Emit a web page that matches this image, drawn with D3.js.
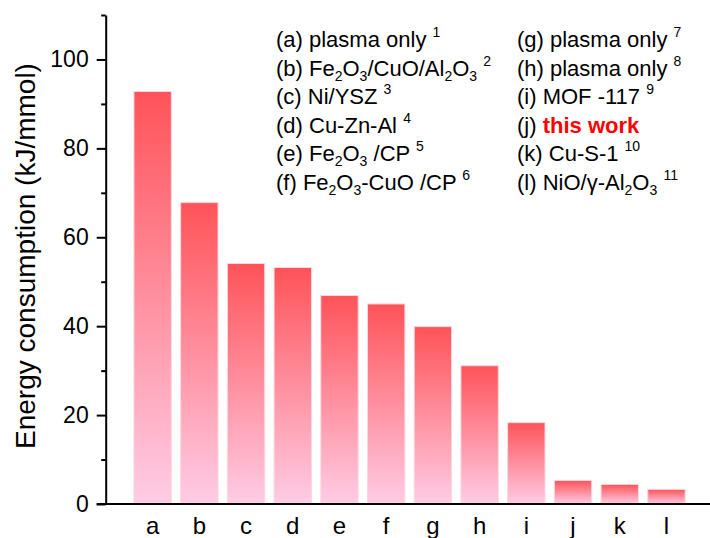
<!DOCTYPE html>
<html><head><meta charset="utf-8">
<script src="https://cdn.jsdelivr.net/npm/d3@7"></script>
<style>
html,body{margin:0;padding:0;background:#fff;}
svg{display:block;font-family:"Liberation Sans",Arial,sans-serif;}
</style></head>
<body>
<svg id="chart" width="710" height="538"></svg>
<script>
const categories = ["a","b","c","d","e","f","g","h","i","j","k","l"];
const values = [92.8, 67.8, 54.1, 53.2, 46.9, 45.0, 39.9, 31.1, 18.3, 5.3, 4.4, 3.3];
const yTicks = [0, 20, 40, 60, 80, 100];
const yMinorTicks = [10, 30, 50, 70, 90, 110];
const legendLabels = [
  "(a) plasma only ^1",
  "(b) Fe_2O_3/CuO/Al_2O_3 ^2",
  "(c) Ni/YSZ ^3",
  "(d) Cu-Zn-Al ^4",
  "(e) Fe_2O_3 /CP ^5",
  "(f) Fe_2O_3-CuO /CP ^6",
  "(g) plasma only ^7",
  "(h) plasma only ^8",
  "(i) MOF -117 ^9",
  "(j) *this work*",
  "(k) Cu-S-1 ^{10}",
  "(l) NiO/γ-Al_2O_3 ^{11}"
];
const yTitle = "Energy consumption (kJ/mmol)";

const svg = d3.select("#chart");
const axisX = 105.7, axisY = 504;
const x = d3.scaleBand().domain(categories).range([110.6, 708.5]).paddingInner(0.2).paddingOuter(0.5);
const y = d3.scaleLinear().domain([0, 110]).range([axisY, 15]);

const defs = svg.append("defs");
const grad = defs.append("linearGradient").attr("id","barGrad")
  .attr("x1",0).attr("y1",0).attr("x2",0).attr("y2",1);
grad.append("stop").attr("offset","0%").attr("stop-color","#ff5358");
grad.append("stop").attr("offset","100%").attr("stop-color","#ffcce6");

svg.append("g").selectAll("rect").data(values).join("rect")
  .attr("x",(d,i)=>x(categories[i]))
  .attr("y",d=>y(d))
  .attr("width",x.bandwidth())
  .attr("height",d=>axisY - y(d))
  .attr("fill","url(#barGrad)")
  .attr("stroke","#ffd6de")
  .attr("stroke-width",1);

// y axis
const yAxis = d3.axisLeft(y).tickValues(yTicks).tickSize(9).tickPadding(8).tickSizeOuter(0);
const gy = svg.append("g").attr("transform",`translate(${axisX},0)`).call(yAxis);
gy.select(".domain").attr("stroke","#000").attr("stroke-width",2);
gy.selectAll(".tick line").attr("stroke","#000").attr("stroke-width",2);
gy.selectAll(".tick text").attr("font-size",23).attr("fill","#000").attr("font-family","Liberation Sans, Arial, sans-serif");
const yMinor = d3.axisLeft(y).tickValues(yMinorTicks).tickSize(4.5).tickFormat("").tickSizeOuter(0);
const gym = svg.append("g").attr("transform",`translate(${axisX},0)`).call(yMinor);
gym.select(".domain").remove();
gym.selectAll(".tick line").attr("stroke","#000").attr("stroke-width",2);

// x axis
const xAxis = d3.axisBottom(x).tickSize(0).tickPadding(13).tickSizeOuter(0);
const gx = svg.append("g").attr("transform",`translate(0,${axisY})`).call(xAxis);
gx.select(".domain").remove();
gx.selectAll(".tick text").attr("font-size",24).attr("fill","#000").attr("font-family","Liberation Sans, Arial, sans-serif");
svg.append("line").attr("x1",axisX-9).attr("x2",710).attr("y1",axisY).attr("y2",axisY)
  .attr("stroke","#000").attr("stroke-width",2);

// y title
svg.append("text").attr("transform",`translate(35,${256}) rotate(-90)`)
  .attr("text-anchor","middle").attr("font-size",28).attr("fill","#000").text(yTitle);

// legend
function parse(s){
  const segs = [];
  const re = /(_\{[^}]*\}|\^\{[^}]*\}|_.|\^.|\*[^*]*\*)/g;
  let last = 0, m;
  while((m = re.exec(s))){
    if(m.index>last) segs.push({t:s.slice(last,m.index),k:"n"});
    const tok = m[0];
    if(tok[0]==="*") segs.push({t:tok.slice(1,-1),k:"b"});
    else {
      const body = tok[1]==="{" ? tok.slice(2,-1) : tok.slice(1);
      segs.push({t:body,k:tok[0]==="_"?"sub":"sup"});
    }
    last = re.lastIndex;
  }
  if(last<s.length) segs.push({t:s.slice(last),k:"n"});
  return segs;
}
const legX = [276, 517], legY0 = 47, legDy = 28.6;
legendLabels.forEach((lab,i)=>{
  const col = i<6?0:1, row = i%6;
  const t = svg.append("text").attr("x",legX[col]).attr("y",legY0+row*legDy)
    .attr("font-size",22).attr("fill","#000");
  let prev = 0;
  parse(lab).forEach(sg=>{
    const shift = sg.k==="sub"?5:(sg.k==="sup"?-10:0);
    const ts = t.append("tspan").attr("dy",shift-prev).text(sg.t);
    if(sg.k==="sub"||sg.k==="sup") ts.attr("font-size",14);
    if(sg.k==="b") ts.attr("fill","#ff0000").attr("font-weight","bold");
    prev = shift;
  });
});
</script>
</body></html>
